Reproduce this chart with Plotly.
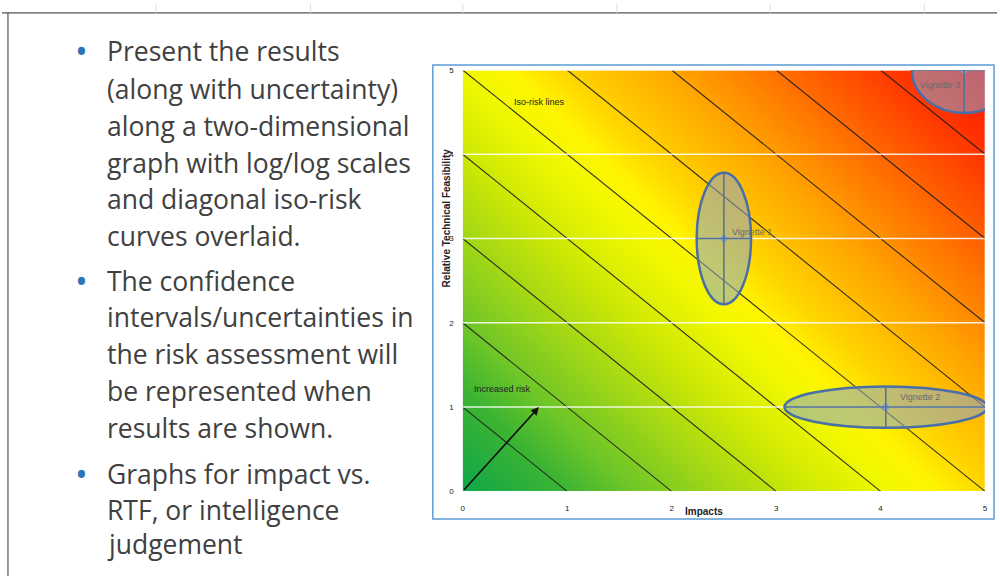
import numpy as np
import plotly.graph_objects as go

# ---- data -------------------------------------------------------------
axis_ticks = [0, 1, 2, 3, 4, 5]
iso_risk_levels = [1, 2, 3, 4, 5, 6, 7, 8, 9]

vignette_names = ["Vignette 1", "Vignette 2", "Vignette 3"]
vignette_impact = [2.5, 4.05, 4.8]          # x centre
vignette_rtf = [3.0, 1.0, 5.0]              # y centre
vignette_impact_unc = [0.26, 0.97, 0.50]    # half-width along Impacts
vignette_rtf_unc = [0.78, 0.245, 0.51]      # half-height along RTF
vignette_label_xy = [(2.56, 3.08), (4.17, 1.12), (4.36, 4.82)]

bullets = [
    ["Present the results", "(along with uncertainty)", "along a two-dimensional",
     "graph with log/log scales", "and diagonal iso-risk", "curves overlaid."],
    ["The confidence", "intervals/uncertainties in", "the risk assessment will",
     "be represented when", "results are shown."],
    ["Graphs for impact vs.", "RTF, or intelligence", "judgement"],
]
bullet_line_y = [
    [48, 86, 124, 161, 198, 236],
    [281, 318, 355, 393, 431],
    [477, 514, 548],
]

W, H = 1000, 581
X0, X1 = 463, 988      # plot area, pixels
Y0, Y1 = 495, 67

fig = go.Figure()

# ---- risk gradient background ------------------------------------------
gx = np.linspace(0, 5, 121)
gy = np.linspace(0, 5, 121)
GX, GY = np.meshgrid(gx, gy)
px_w = (X1 - X0) / 5.0
px_h = (Y0 - Y1) / 5.0
risk = (GX * px_w + GY * px_h) / (5 * px_w + 5 * px_h)
fig.add_trace(go.Heatmap(
    x=gx, y=gy, z=risk, zmin=0, zmax=1, zsmooth="best", showscale=False,
    hoverinfo="skip",
    colorscale=[
        [0.0, "rgb(14,166,74)"],
        [0.11, "rgb(60,180,50)"],
        [0.18, "rgb(110,198,40)"],
        [0.27, "rgb(160,214,22)"],
        [0.36, "rgb(205,232,5)"],
        [0.45, "rgb(240,248,0)"],
        [0.5, "rgb(255,245,0)"],
        [0.56, "rgb(255,212,0)"],
        [0.67, "rgb(255,165,0)"],
        [0.78, "rgb(255,112,0)"],
        [0.89, "rgb(255,60,0)"],
        [1.0, "rgb(255,20,0)"],
    ],
))

# ---- iso-risk lines x + y = c -----------------------------------------
for c in iso_risk_levels:
    xa, ya = max(0, c - 5), min(5, c)
    xb, yb = min(5, c), max(0, c - 5)
    fig.add_trace(go.Scatter(
        x=[xa, xb], y=[ya, yb], mode="lines",
        line=dict(color="rgba(30,30,30,0.9)", width=1.1),
        hoverinfo="skip", showlegend=False,
    ))

shapes = []
# horizontal white gridlines
for t in axis_ticks[1:]:
    shapes.append(dict(type="line", xref="x", yref="y", x0=0, x1=5, y0=t, y1=t,
                       line=dict(color="rgba(255,255,255,0.85)", width=1.5),
                       layer="above"))

# ---- vignette ellipses ------------------------------------------------
for cx, cy, rx, ry in zip(vignette_impact, vignette_rtf,
                          vignette_impact_unc, vignette_rtf_unc):
    shapes.append(dict(type="circle", xref="x", yref="y",
                       x0=cx - rx, x1=cx + rx, y0=cy - ry, y1=cy + ry,
                       fillcolor="rgba(140,165,205,0.55)",
                       line=dict(color="#4a6ea6", width=2.5), layer="above"))
    shapes.append(dict(type="line", xref="x", yref="y",
                       x0=cx - rx, x1=cx + rx, y0=cy, y1=cy,
                       line=dict(color="#54708f", width=1.5), layer="above"))
    shapes.append(dict(type="line", xref="x", yref="y",
                       x0=cx, x1=cx, y0=cy - ry, y1=cy + ry,
                       line=dict(color="#54708f", width=1.5), layer="above"))

fig.add_trace(go.Scatter(
    x=vignette_impact, y=vignette_rtf, mode="markers",
    marker=dict(symbol="diamond", size=7, color="#6d9be0"),
    hoverinfo="skip", showlegend=False,
))

# ---- slide frame and chart box (paper pixels) -------------------------
def px(x):
    return x / W

def py(y):
    return 1 - y / H

shapes.append(dict(type="line", xref="paper", yref="paper",
                   x0=0, x1=1, y0=py(9), y1=py(9),
                   line=dict(color="#555555", width=1.2)))
shapes.append(dict(type="line", xref="paper", yref="paper",
                   x0=px(6), x1=px(6), y0=py(9), y1=0,
                   line=dict(color="#555555", width=1.2)))
for tx in [155, 310, 463, 618, 772, 927]:
    shapes.append(dict(type="line", xref="paper", yref="paper",
                       x0=px(tx), x1=px(tx), y0=1, y1=py(9),
                       line=dict(color="#dddddd", width=1)))
shapes.append(dict(type="rect", xref="paper", yref="paper",
                   x0=px(433), x1=px(997), y0=py(523), y1=py(62),
                   line=dict(color="#5b9bd5", width=1.5), layer="below"))

annotations = []
# bullet text
for lines, ys in zip(bullets, bullet_line_y):
    annotations.append(dict(xref="paper", yref="paper", x=px(80), y=py(ys[0]),
                            text="•", showarrow=False, xanchor="center",
                            yanchor="middle",
                            font=dict(family="Open Sans", size=34, color="#2e75b6")))
    for txt, yy in zip(lines, ys):
        annotations.append(dict(xref="paper", yref="paper", x=px(104), y=py(yy),
                                text=txt, showarrow=False, xanchor="left",
                                yanchor="middle",
                                font=dict(family="Open Sans", size=26.5,
                                          color="#404040")))

# chart labels
small = dict(family="Liberation Sans", size=9, color="#222222")
annotations.append(dict(x=0.74, y=4.62, xref="x", yref="y", text="Iso-risk lines",
                        showarrow=False, xanchor="center", yanchor="middle",
                        font=small))
annotations.append(dict(x=0.09, y=1.22, xref="x", yref="y", text="Increased risk",
                        showarrow=False, xanchor="left", yanchor="middle",
                        font=small))
annotations.append(dict(x=0.73, y=1.0, xref="x", yref="y", ax=0, ay=0,
                        axref="x", ayref="y", text="", showarrow=True,
                        arrowhead=2, arrowsize=1, arrowwidth=1.6,
                        arrowcolor="#111111"))
for name, (lx, ly) in zip(vignette_names, vignette_label_xy):
    annotations.append(dict(x=lx, y=ly, xref="x", yref="y", text=name,
                            showarrow=False, xanchor="left", yanchor="middle",
                            font=dict(family="Liberation Sans", size=9,
                                      color="#6a6a6a")))

annotations.append(dict(xref="paper", yref="paper", x=px(706), y=py(515),
                        text="<b>Impacts</b>", showarrow=False,
                        xanchor="center", yanchor="middle",
                        font=dict(family="Liberation Sans", size=10,
                                  color="#222222")))
annotations.append(dict(xref="paper", yref="paper", x=px(447), y=py(217),
                        text="<b>Relative Technical Feasibility</b>",
                        showarrow=False, textangle=-90, xanchor="center",
                        yanchor="middle",
                        font=dict(family="Liberation Sans", size=10,
                                  color="#222222")))

tickfont = dict(family="Liberation Sans", size=8, color="#222222")
fig.update_layout(
    width=W, height=H,
    margin=dict(l=0, r=0, t=0, b=0),
    paper_bgcolor="white", plot_bgcolor="white",
    showlegend=False,
    shapes=shapes, annotations=annotations,
    xaxis=dict(domain=[px(X0), px(X1)], range=[0, 5], tickvals=axis_ticks,
               showgrid=False, zeroline=False, showline=False,
               tickfont=tickfont, ticks="", ticklabelstandoff=11, fixedrange=True),
    yaxis=dict(domain=[py(Y0), py(Y1)], range=[0, 5], tickvals=axis_ticks,
               showgrid=False, zeroline=False, showline=False,
               tickfont=tickfont, ticks="", ticklabelstandoff=8, fixedrange=True),
)

fig.write_html("out.html")
